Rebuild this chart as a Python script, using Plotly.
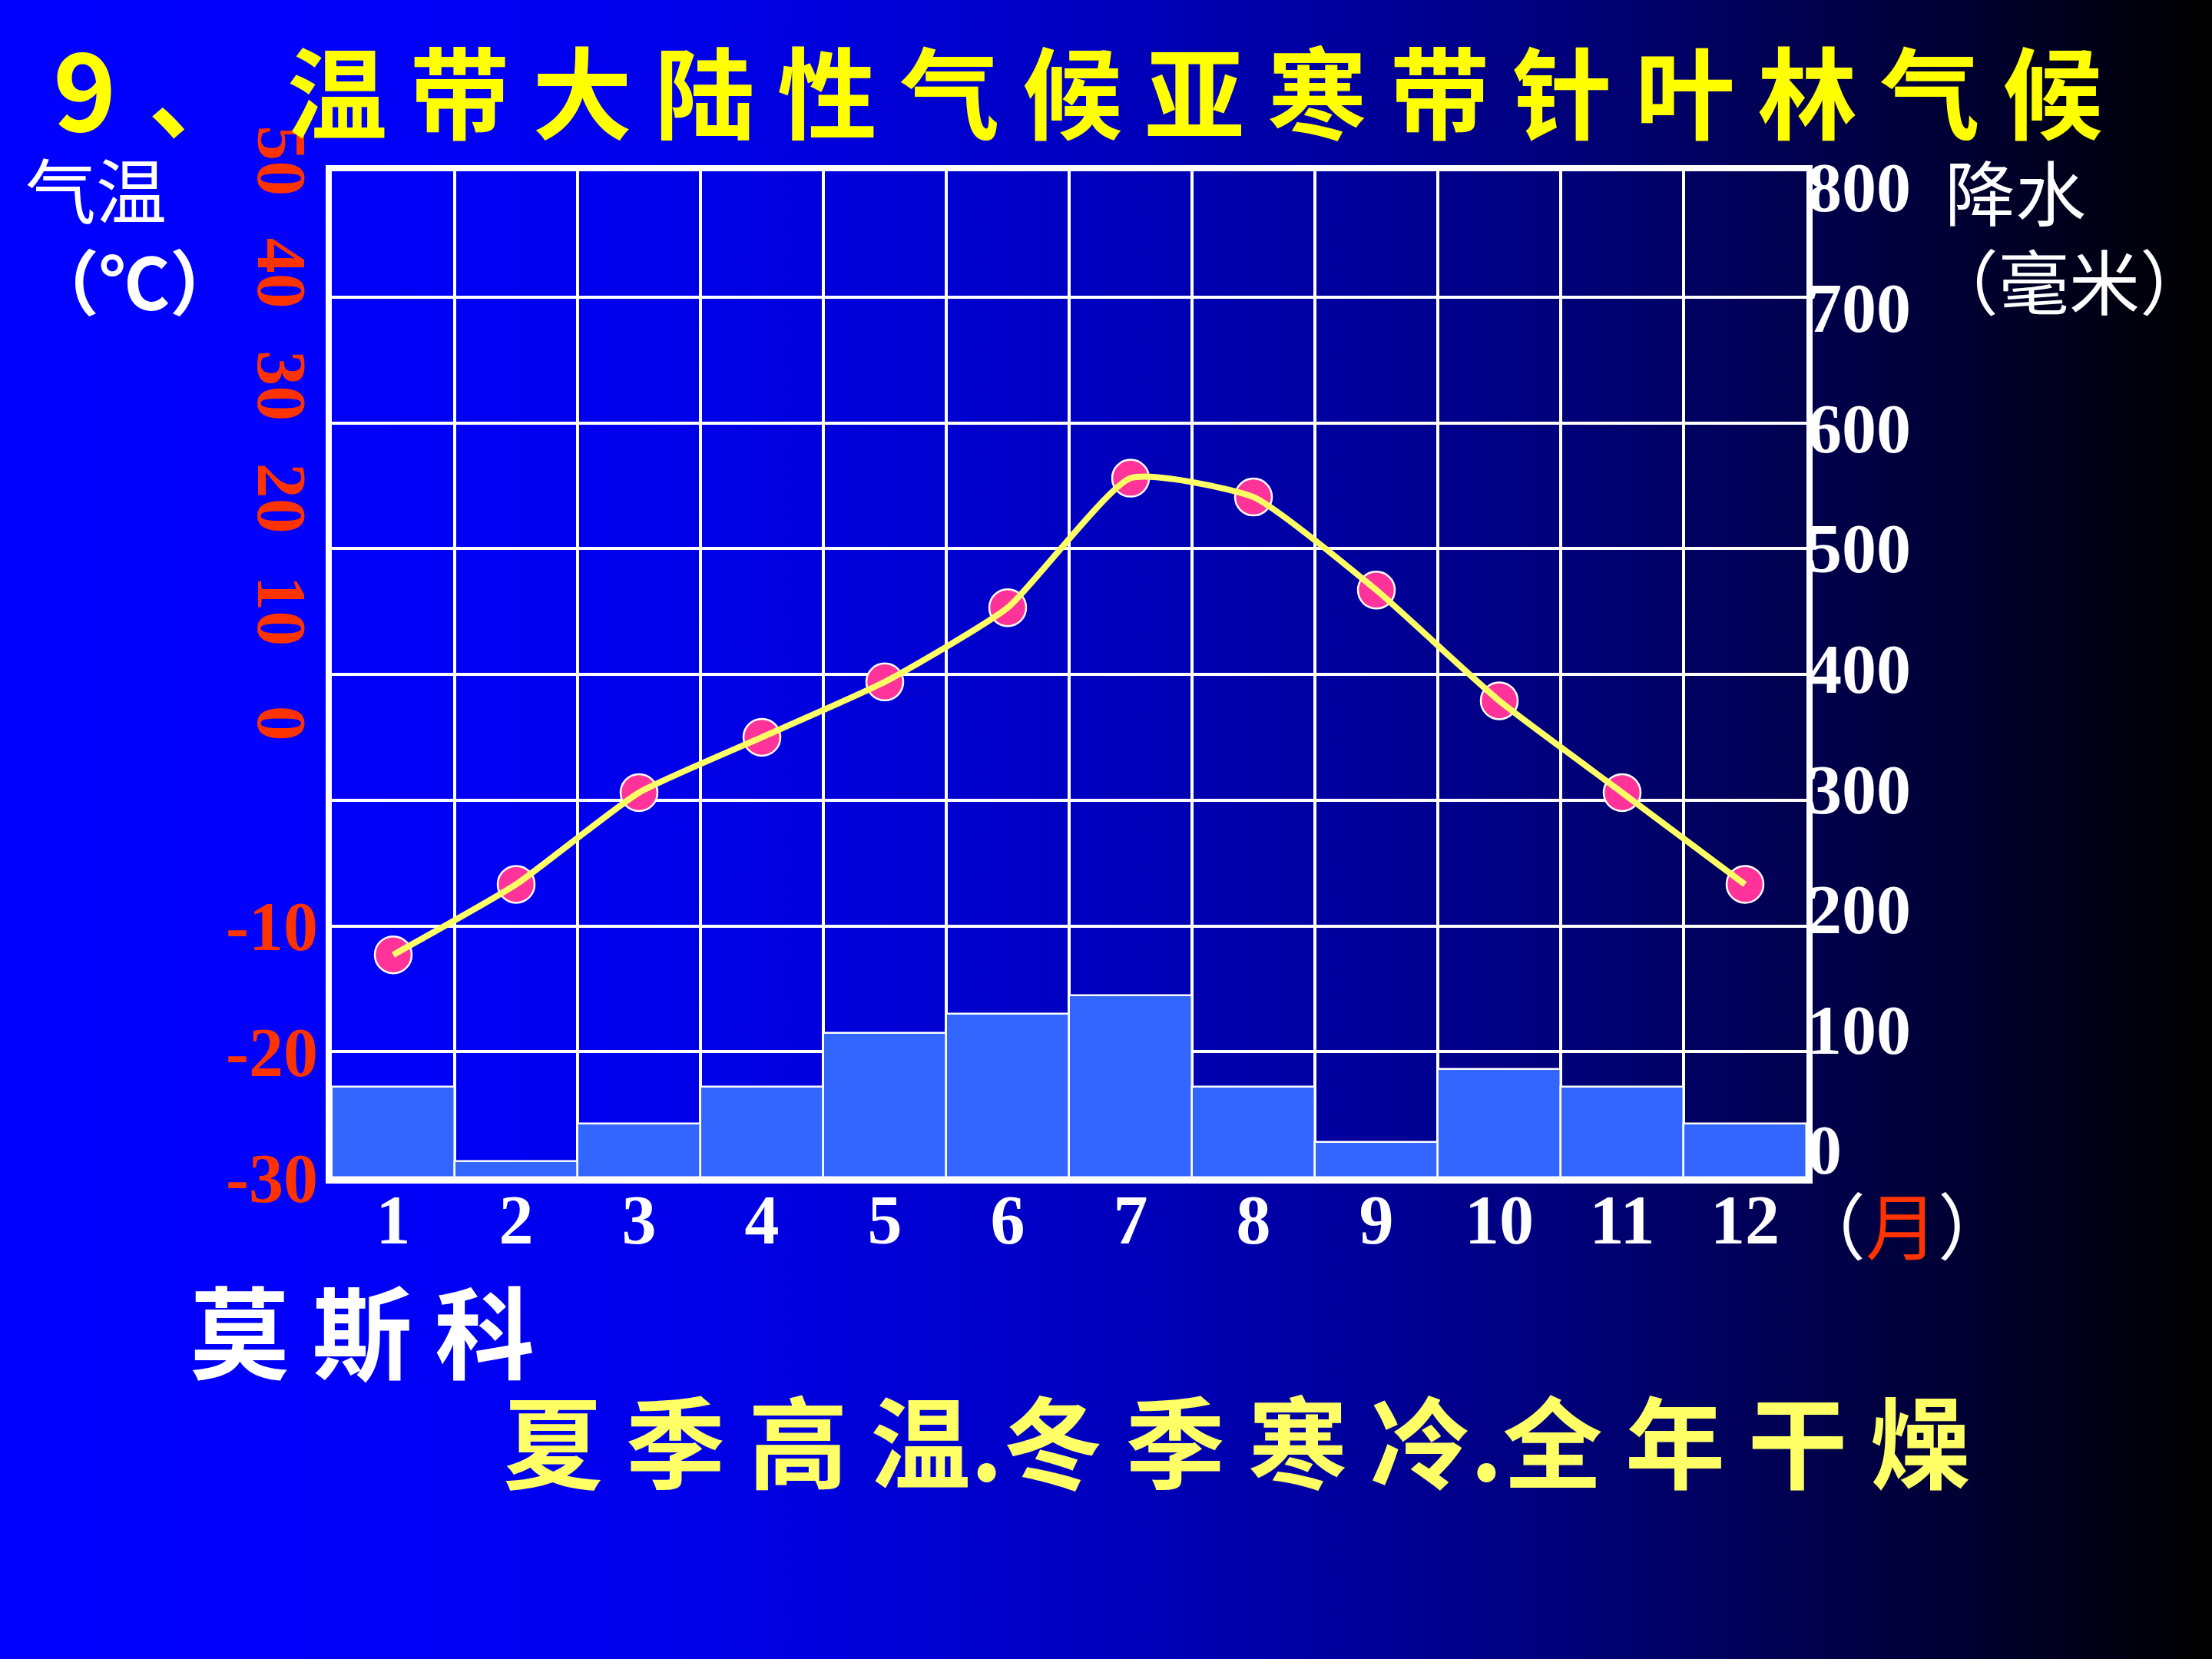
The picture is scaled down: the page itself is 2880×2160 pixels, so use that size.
import base64
import plotly.graph_objects as go

# ---------------- data ----------------
months = [1, 2, 3, 4, 5, 6, 7, 8, 9, 10, 11, 12]
month_labels = ["1", "2", "3", "4", "5", "6", "7", "8", "9", "10", "11", "12"]
temperature = [-12.3, -6.7, 0.6, 5.0, 9.4, 15.3, 25.6, 24.1, 16.7, 7.9, 0.6, -6.7]
precipitation = [72, 13, 43, 72, 115, 130, 145, 72, 28, 86, 72, 43]
temp_grid_ticks = [-30, -20, -10, 0, 10, 20, 30, 40, 50]
temp_grid_text = ["-30", "-20", "-10", "", "", "", "", "", ""]
temp_upper_ticks = [0, 10, 20, 30, 40, 50]
temp_upper_text = ["0", "10", "20", "30", "40", "50"]
precip_ticks = [0, 100, 200, 300, 400, 500, 600, 700, 800]
precip_text = ["0", "100", "200", "300", "400", "500", "600", "700", "800"]
col_edges = [0.5 + i for i in range(13)]

title_num = "9"
title_sep = "、"
title_text = "温带大陆性气候亚寒带针叶林气候"
city_text = "莫斯科"
summary_text = "夏季高温.冬季寒冷.全年干燥"

W, H = 2880, 2160
NB = "\u00a0"


def spaced(s, sep=NB):
    out = ""
    for i, ch in enumerate(s):
        out += ch
        if i < len(s) - 1 and ch != "." and s[i + 1] != ".":
            out += sep
    return out


# ---------------- background gradient ----------------
stops = [(0.0, 255), (0.15, 250), (0.3, 235), (0.4, 215), (0.5, 190), (0.6, 160),
         (0.7, 125), (0.8, 85), (0.9, 45), (0.97, 12), (1.0, 0)]
stop_xml = "".join(
    f'<stop offset="{o}" stop-color="rgb(0,0,{b})"/>' for o, b in stops)
svg = (f'<svg xmlns="http://www.w3.org/2000/svg" width="{W}" height="{H}" '
       f'preserveAspectRatio="none" viewBox="0 0 {W} {H}">'
       f'<defs><linearGradient id="g" x1="0" y1="0" x2="1" y2="0">{stop_xml}'
       f'</linearGradient></defs><rect width="{W}" height="{H}" fill="url(#g)"/></svg>')
bg_src = "data:image/svg+xml;base64," + base64.b64encode(svg.encode()).decode()

SERIF = "Liberation Serif"
CJK = "Noto Sans CJK SC"
RED = "#FF3300"

fig = go.Figure()

fig.add_trace(go.Bar(
    x=months, y=precipitation, yaxis="y2", width=1.0,
    marker=dict(color="#3366FF", line=dict(color="white", width=2.5)),
    showlegend=False, hoverinfo="skip"))

fig.add_trace(go.Scatter(
    x=months, y=temperature, mode="markers",
    marker=dict(size=48, color="#FF3399", line=dict(color="white", width=2.5)),
    showlegend=False, hoverinfo="skip"))

fig.add_trace(go.Scatter(
    x=months, y=temperature, mode="lines",
    line=dict(color="#FFFF66", width=8, shape="spline", smoothing=0.5),
    showlegend=False, hoverinfo="skip"))

# label-only axes (the slide's hand-placed scale labels)
fig.add_trace(go.Scatter(x=[None], y=[None], yaxis="y3", showlegend=False,
                         hoverinfo="skip"))
fig.add_trace(go.Scatter(x=[None], y=[None], yaxis="y4", showlegend=False,
                         hoverinfo="skip"))

x0, x1 = 432 / W, 2352 / W
y0, y1 = 1 - 1533 / H, 1 - 223 / H

fig.update_layout(
    template="none",
    width=W, height=H,
    margin=dict(l=0, r=0, t=0, b=0, pad=0, autoexpand=False),
    paper_bgcolor="#0000B0",
    plot_bgcolor="rgba(0,0,0,0)",
    bargap=0,
    showlegend=False,
    images=[dict(source=bg_src, xref="paper", yref="paper", x=0, y=1,
                 sizex=1, sizey=1, xanchor="left", yanchor="top",
                 sizing="stretch", layer="below")],
    xaxis=dict(
        domain=[x0, x1], range=[0.5, 12.5], automargin=False,
        tickmode="array", tickvals=months, ticktext=month_labels,
        showgrid=False, zeroline=False,
        minor=dict(tickmode="array", tickvals=col_edges, showgrid=True,
                   gridcolor="white", gridwidth=3.5, ticks=""),
        showline=True, linecolor="white", linewidth=8, mirror=True,
        ticks="", ticklabelstandoff=-30,
        tickfont=dict(family=SERIF, size=90, color="white", weight="bold"),
    ),
    yaxis=dict(
        domain=[y0, y1], range=[-30, 50], automargin=False,
        tickmode="array", tickvals=temp_grid_ticks, ticktext=temp_grid_text,
        showgrid=True, gridcolor="white", gridwidth=3.5, zeroline=False,
        showline=True, linecolor="white", linewidth=8, mirror=True,
        ticks="", ticklabelstandoff=-8,
        tickfont=dict(family=SERIF, size=90, color=RED, weight="bold"),
    ),
    yaxis2=dict(
        overlaying="y", side="right", anchor="x", range=[0, 800], automargin=False,
        showticklabels=False, showgrid=False, zeroline=False, showline=False,
        ticks="",
    ),
    yaxis3=dict(
        overlaying="y", side="left", anchor="free", position=428 / W,
        range=[-39.4, 50], automargin=False,
        tickmode="array", tickvals=temp_upper_ticks, ticktext=temp_upper_text,
        tickangle=90, showgrid=False, zeroline=False, showline=False, ticks="",
        tickfont=dict(family=SERIF, size=92, color=RED, weight="bold"),
    ),
    yaxis4=dict(
        overlaying="y", side="right", anchor="free", position=x1,
        range=[-23, 813.4], automargin=False,
        tickmode="array", tickvals=precip_ticks, ticktext=precip_text,
        showgrid=False, zeroline=False, showline=False, ticks="",
        ticklabelstandoff=0,
        tickfont=dict(family=SERIF, size=90, color="white", weight="bold"),
    ),
)

ann_common = dict(xref="paper", yref="paper", showarrow=False,
                  xanchor="center", yanchor="middle")
annotations = [
    dict(text=spaced(title_text), x=372 / W, y=1 - 114 / H, xanchor="left",
         font=dict(family=CJK, size=130, color="#FFFF00", weight="bold")),
    dict(text=title_num, x=110 / W, y=1 - 110 / H,
         font=dict(family=CJK, size=140, color="#FFFF00", weight="bold")),
    dict(text=title_sep, x=258 / W, y=1 - 114 / H,
         font=dict(family=CJK, size=130, color="#FFFF00", weight="bold")),
    dict(text="气温", x=125 / W, y=1 - 243 / H,
         font=dict(family=CJK, size=92, color="white")),
    dict(text="（℃）", x=175 / W, y=1 - 362 / H,
         font=dict(family=CJK, size=92, color="white", weight="bold")),
    dict(text="降水", x=2624 / W, y=1 - 246 / H,
         font=dict(family=CJK, size=92, color="white")),
    dict(text="（毫米）", x=2694 / W, y=1 - 362 / H,
         font=dict(family=CJK, size=92, color="white")),
    dict(text="（<span style='color:#FF3300'>月</span>）", x=2476 / W, y=1 - 1592 / H,
         font=dict(family=CJK, size=94, color="white")),
    dict(text=spaced(city_text), x=471 / W, y=1 - 1728 / H,
         font=dict(family=CJK, size=130, color="white", weight="bold")),
    dict(text=spaced(summary_text), x=1610 / W, y=1 - 1871 / H,
         font=dict(family=CJK, size=130, color="#FFFF66", weight="bold")),
]
fig.update_layout(annotations=[{**ann_common, **a} for a in annotations])

fig.write_html("out.html", config={"displayModeBar": False},
               post_script="document.body.style.margin='0';document.body.style.overflow='hidden';")
